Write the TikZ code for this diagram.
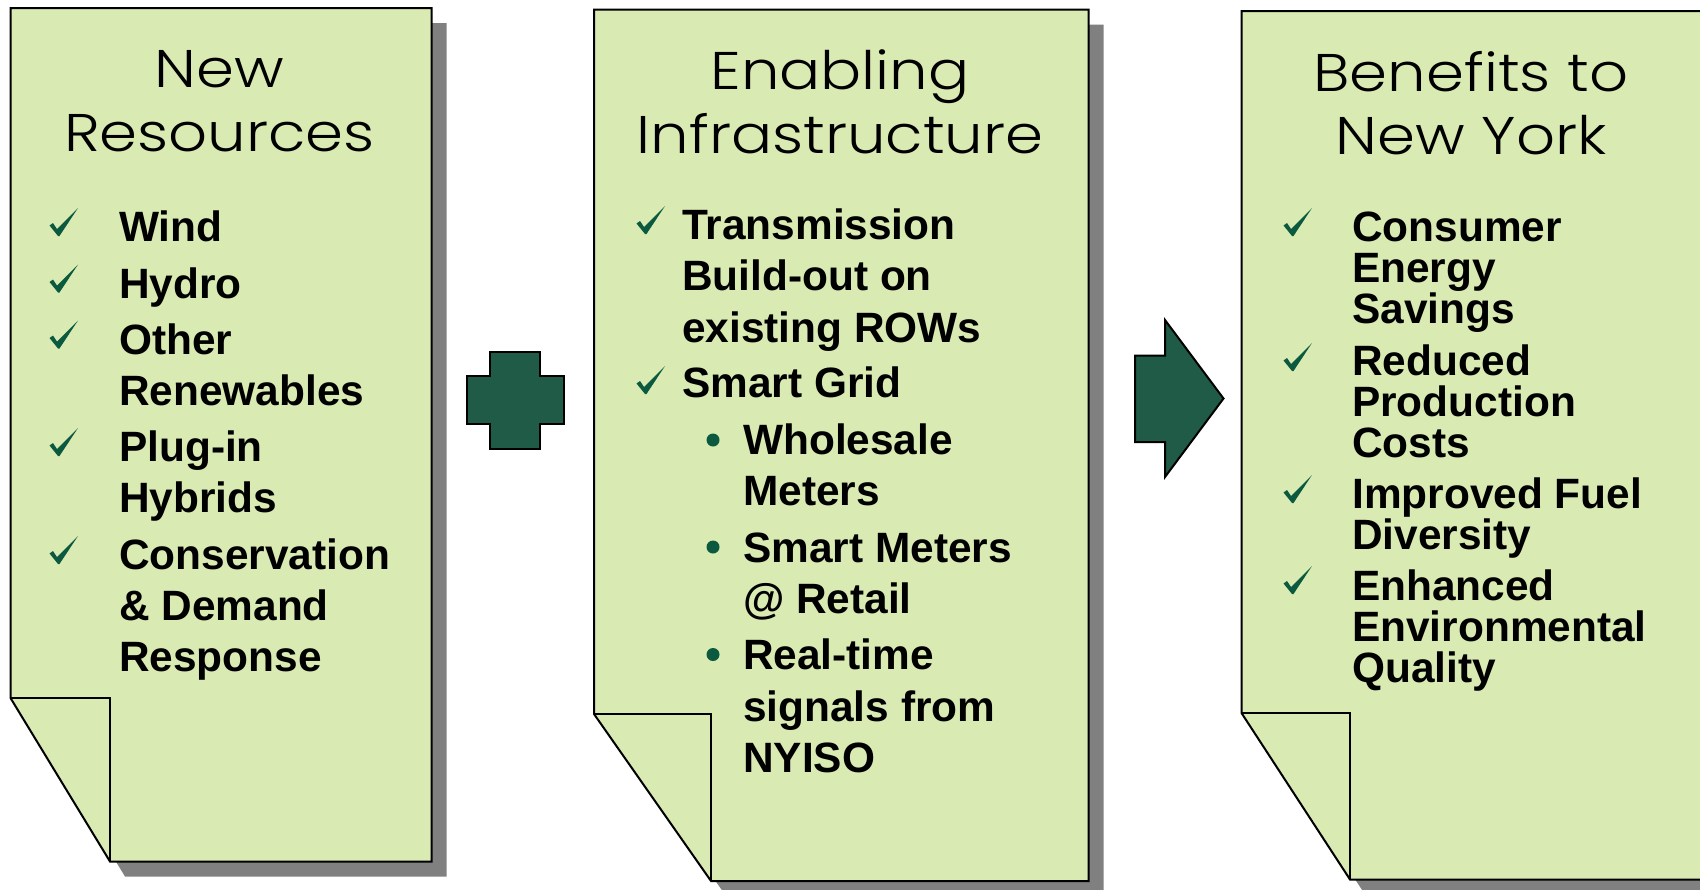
\documentclass[tikz,border=0pt]{standalone}
\usepackage{fontspec}
\setmainfont{Liberation Sans}
\newfontfamily\titlefont[FakeStretch=1.15]{Poppins Light}
\definecolor{paper}{HTML}{D9EAB3}
\definecolor{shade}{HTML}{808080}
\definecolor{deep}{HTML}{1F5B47}
\definecolor{tick}{HTML}{0B5A3F}
\tikzset{
  x=1pt,y=-1pt,
  sheet/.style={draw=black,line width=2pt,fill=paper,line join=miter},
  shadowsheet/.style={fill=shade},
  sign/.style={draw=black,line width=2pt,fill=deep},
  titletext/.style={inner sep=0pt,anchor=base,align=center,font=\titlefont\fontsize{53}{63.5}\selectfont},
  itemtext/.style={inner sep=0pt,anchor=base west},
  dotmark/.style={fill=tick,draw=none},
}
\newcommand{\bodytext}[3]{\parbox[t]{#1pt}{\raggedright\fontsize{42.4}{#2}\selectfont\bfseries #3}}
\newcommand{\tickmark}[2]{\fill[tick] (#1,#2) -- ++(-21,21) -- ++(-4,-6) -- ++(-3.5,2.5) -- ++(8.5,10.5) -- ++(1.5,0) -- cycle;}
\newcommand{\sheetshape}[6]{% left top right bottom foldx foldy
  \fill[shadowsheet] (#1+15,#2+15) -- (#3+15,#2+15) -- (#3+15,#4+15) -- (#5+15,#4+15) -- (#1+15,#6+15) -- cycle;
  \draw[sheet] (#1,#2) -- (#3,#2) -- (#3,#4) -- (#5,#4) -- (#1,#6) -- cycle;
  \draw[sheet,fill=none] (#1,#6) -- (#5,#6) -- (#5,#4);
}
\begin{document}
\begin{tikzpicture}
\useasboundingbox (0,0) rectangle (1700,889);
\clip (0,0) rectangle (1700,889);
\sheetshape{10.5}{8}{431.5}{861.5}{110}{698}
\sheetshape{594}{9.5}{1088.5}{881}{711}{714}
\sheetshape{1241.5}{11}{1740}{879.5}{1350}{713}

% plus
\draw[sign] (490.3,351.5) -- (539.7,351.5) -- (539.7,376.3) -- (564,376.3) -- (564,424) -- (539.7,424) -- (539.7,449) -- (490.3,449) -- (490.3,424) -- (467.3,424) -- (467.3,376.3) -- (490.3,376.3) -- cycle;
% arrow
\draw[sign] (1135,355.6) -- (1165,355.6) -- (1165,320) -- (1223.5,398.5) -- (1165,477) -- (1165,442) -- (1135,442) -- cycle;

% titles
\node[titletext] (t1) at (219.5,151) {New\\Resources};
\node[titletext] (t2) at (840,153) {Enabling\\Infrastructure};
\node[titletext] (t3) at (1471,154.5) {Benefits to\\New York};

% panel 1
\tickmark{78}{208}\tickmark{78}{264.5}\tickmark{78}{320.5}\tickmark{78}{428}\tickmark{78}{536}
\node[itemtext] (a1) at (119,241) {\bodytext{300}{51}{Wind}};
\node[itemtext] (a2) at (119,298) {\bodytext{300}{51}{Hydro}};
\node[itemtext] (a3) at (119,354.5) {\bodytext{300}{51}{Other\\Renewables}};
\node[itemtext] (a4) at (119,461.5) {\bodytext{300}{51}{Plug-in\\Hybrids}};
\node[itemtext] (a5) at (119,569) {\bodytext{300}{51.4}{Conservation\\\& Demand\\Response}};

% panel 2
\tickmark{665}{206}\tickmark{665}{366}
\node[itemtext] (b1) at (682,239) {\bodytext{320}{51.5}{Transmission\\Build-out on\\existing ROWs}};
\node[itemtext] (b2) at (682,397.5) {\bodytext{320}{51.5}{Smart Grid}};
\fill[dotmark] (713,440) circle (6.5);
\fill[dotmark] (713,547) circle (6.5);
\fill[dotmark] (713,654.5) circle (6.5);
\node[itemtext] (b3) at (743,454) {\bodytext{300}{51.5}{Wholesale\\Meters}};
\node[itemtext] (b4) at (743,562) {\bodytext{300}{51.5}{Smart Meters\\@ Retail}};
\node[itemtext] (b5) at (743,669.5) {\bodytext{300}{51.5}{Real-time\\signals from\\NYISO}};

% panel 3
\tickmark{1312}{208}\tickmark{1312}{343}\tickmark{1312}{475}\tickmark{1312}{566}
\node[itemtext] (c1) at (1352,241.8) {\bodytext{340}{40.9}{Consumer\\Energy\\Savings}};
\node[itemtext] (c2) at (1352,375) {\bodytext{340}{41}{Reduced\\Production\\Costs}};
\node[itemtext] (c3) at (1352,508.5) {\bodytext{340}{41}{Improved Fuel\\Diversity}};
\node[itemtext] (c4) at (1352,600.6) {\bodytext{340}{40.9}{Enhanced\\Environmental\\Quality}};
\end{tikzpicture}
\end{document}
